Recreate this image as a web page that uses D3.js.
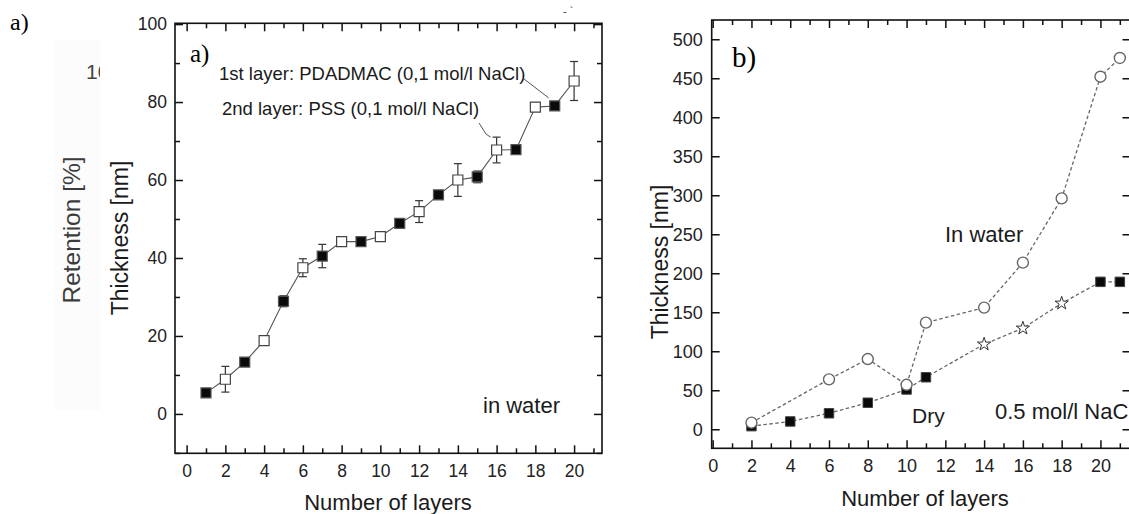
<!DOCTYPE html>
<html><head><meta charset="utf-8">
<script src="https://cdn.jsdelivr.net/npm/d3@7"></script>
<style>
html,body{margin:0;padding:0;background:#fff;}
svg{display:block;font-family:"Liberation Sans",Arial,sans-serif;}
</style></head>
<body>
<svg id="c" width="1129" height="514"></svg>
<script>
// ---------- Panel a data ----------
const layersA = [1,2,3,4,5,6,7,8,9,10,11,12,13,14,15,16,17,18,19,20];
const thicknessA = [5.4,8.9,13.3,18.8,28.9,37.5,40.5,44.2,44.2,45.5,48.9,51.9,56.2,60.0,60.8,67.7,67.8,78.7,79.0,85.4];
const errorA = [0.5,3.3,0.5,1.0,1.4,2.3,3.0,1.2,0.8,0.7,0.5,2.8,0.5,4.2,1.5,3.3,0.5,1.1,0.8,5.0];
const xTicksA = [0,2,4,6,8,10,12,14,16,18,20];
const xMinorA = [1,3,5,7,9,11,13,15,17,19,21];
const yTicksA = [0,20,40,60,80,100];
const yMinorA = [-10,10,30,50,70,90];

// ---------- Panel b data ----------
const layersWater = [2,6,8,10,11,14,16,18,20,21];
const thicknessWater = [8.5,64,90,57,136.7,156,213.6,296,452,476];
const layersDry = [2,4,6,8,10,11,14,16,18,20,21];
const thicknessDry = [4,10,20.5,34,51,66.7,109,129.5,161.5,189,189];
const markerDry = ["sq","sq","sq","sq","sq","sq","star","star","star","sq","sq"];
const xTicksB = [0,2,4,6,8,10,12,14,16,18,20];
const xMinorB = [1,3,5,7,9,11,13,15,17,19,21];
const yTicksB = [0,50,100,150,200,250,300,350,400,450,500];

const svg = d3.select("#c");

// ---------- left ghost layer ----------
svg.append("rect").attr("x",55).attr("y",40).attr("width",45).attr("height",370).attr("fill","#fcfcfc");
svg.append("defs").append("clipPath").attr("id","ghostclip").append("rect").attr("x",0).attr("y",0).attr("width",100).attr("height",514);
svg.append("text").attr("x",86).attr("y",79).attr("font-size",21).attr("fill","#444").attr("clip-path","url(#ghostclip)").text("10");
svg.append("text").attr("transform","translate(80,230) rotate(-90)").attr("text-anchor","middle")
  .attr("font-size",24.5).attr("fill","#3c3c3c").text("Retention [%]");
svg.append("text").attr("x",10).attr("y",30).attr("font-family","'Liberation Serif',serif").attr("font-size",24).attr("fill","#000").text("a)");
svg.append("text").attr("x",563).attr("y",15).attr("font-size",11).attr("fill","#333").text("-  `");

function frame(g, x, y, o){
  const [x0,x1] = x.range(), [y0,y1] = y.range();
  g.append("g").attr("transform",`translate(0,${y0})`)
    .call(d3.axisBottom(x).tickValues(o.xt).tickSizeInner(-8).tickSizeOuter(0).tickPadding(o.xpad).tickFormat(d3.format("d")));
  g.append("g").attr("transform",`translate(0,${y0})`)
    .call(d3.axisBottom(x).tickValues(o.xm).tickSizeInner(-5).tickSizeOuter(0).tickFormat(""));
  g.append("g").attr("transform",`translate(0,${y1})`)
    .call(d3.axisTop(x).tickValues(o.xt).tickSizeInner(-8).tickSizeOuter(0).tickFormat(""));
  g.append("g").attr("transform",`translate(0,${y1})`)
    .call(d3.axisTop(x).tickValues(o.xm).tickSizeInner(-5).tickSizeOuter(0).tickFormat(""));
  g.append("g").attr("transform",`translate(${x0},0)`)
    .call(d3.axisLeft(y).tickValues(o.yt).tickSizeInner(-8).tickSizeOuter(0).tickPadding(o.ypad).tickFormat(d3.format("d")));
  if(o.ym) g.append("g").attr("transform",`translate(${x0},0)`)
    .call(d3.axisLeft(y).tickValues(o.ym).tickSizeInner(-5).tickSizeOuter(0).tickFormat(""));
  g.append("g").attr("transform",`translate(${x1},0)`)
    .call(d3.axisRight(y).tickValues(o.yt).tickSizeInner(-8).tickSizeOuter(0).tickFormat(""));
  if(o.ym) g.append("g").attr("transform",`translate(${x1},0)`)
    .call(d3.axisRight(y).tickValues(o.ym).tickSizeInner(-5).tickSizeOuter(0).tickFormat(""));
  g.append("rect").attr("x",x0).attr("y",y1).attr("width",x1-x0).attr("height",y0-y1)
    .attr("fill","none").attr("stroke","#111").attr("stroke-width",1.6);
  g.selectAll(".domain").remove();
  g.selectAll(".tick line").attr("stroke","#111").attr("stroke-width",1.5);
  g.selectAll(".tick text").attr("font-size",o.fs).attr("fill","#222").attr("font-family","'Liberation Sans',Arial,sans-serif");
}

// ---------- Panel a ----------
const xA = d3.scaleLinear().domain([-0.6,21.44]).range([175,602]);
const yA = d3.scaleLinear().domain([-10.1,100.2]).range([453.3,23.3]);
const gA = svg.append("g");
frame(gA, xA, yA, {xt:xTicksA, xm:xMinorA, yt:yTicksA, ym:yMinorA, xpad:11, ypad:8, fs:17.5});

gA.append("path").datum(layersA.map((l,i)=>[l,thicknessA[i]]))
  .attr("d", d3.line().x(d=>xA(d[0])).y(d=>yA(d[1])))
  .attr("fill","none").attr("stroke","#555").attr("stroke-width",1.1);

const eb = gA.append("g").attr("stroke","#333").attr("stroke-width",1.2);
layersA.forEach((l,i)=>{
  const e = errorA[i]; if(e < 0.9) return;
  const cx = xA(l), t = yA(thicknessA[i]+e), b = yA(thicknessA[i]-e);
  eb.append("line").attr("x1",cx).attr("x2",cx).attr("y1",t).attr("y2",b);
  eb.append("line").attr("x1",cx-4).attr("x2",cx+4).attr("y1",t).attr("y2",t);
  eb.append("line").attr("x1",cx-4).attr("x2",cx+4).attr("y1",b).attr("y2",b);
});
gA.selectAll(".ptA").data(layersA.map((l,i)=>({l, v:thicknessA[i]}))).join("path")
  .attr("transform",d=>`translate(${xA(d.l)},${yA(d.v)})`)
  .attr("d", d3.symbol(d3.symbolSquare, 100)())
  .attr("fill",d=>d.l%2===1?"#0a0a0a":"#fff")
  .attr("stroke",d=>d.l%2===1?"#555":"#444").attr("stroke-width",1.2);

gA.append("text").attr("x",190).attr("y",62).attr("font-family","'Liberation Serif',serif").attr("font-size",25).text("a)");
gA.append("text").attr("x",219).attr("y",80).attr("font-size",18.5).attr("fill","#1a1a1a").text("1st layer: PDADMAC (0,1 mol/l NaCl)");
gA.append("text").attr("x",222).attr("y",115).attr("font-size",18.5).attr("fill","#1a1a1a").text("2nd layer: PSS (0,1 mol/l NaCl)");
gA.append("line").attr("x1",524).attr("y1",79).attr("x2",xA(19)-6).attr("y2",yA(79)-8).attr("stroke","#555").attr("stroke-width",1);
gA.append("polyline").attr("points",`479,123 486,134 ${xA(16)-6},${yA(67.7+3.3)}`).attr("fill","none").attr("stroke","#555").attr("stroke-width",1);
gA.append("text").attr("x",483).attr("y",413).attr("font-size",22).attr("fill","#1a1a1a").text("in water");
gA.append("text").attr("transform","translate(128,238) rotate(-90)").attr("text-anchor","middle").attr("font-size",23).attr("fill","#1a1a1a").text("Thickness [nm]");
gA.append("text").attr("x",388).attr("y",510).attr("text-anchor","middle").attr("font-size",22).attr("fill","#1a1a1a").text("Number of layers");

// ---------- Panel b ----------
const xB = d3.scaleLinear().domain([-0.05,21.55]).range([711.7,1130.5]);
const yB = d3.scaleLinear().domain([-24.4,524.7]).range([448.3,20]);
const gB = svg.append("g");
frame(gB, xB, yB, {xt:xTicksB, xm:xMinorB, yt:yTicksB, ym:null, xpad:11, ypad:9, fs:18});

const dash = "3.5,2.5";
gB.append("path").datum(layersDry.map((l,i)=>[l,thicknessDry[i]]))
  .attr("d", d3.line().x(d=>xB(d[0])).y(d=>yB(d[1])))
  .attr("fill","none").attr("stroke","#666").attr("stroke-width",1.3).attr("stroke-dasharray",dash);
gB.append("path").datum(layersWater.map((l,i)=>[l,thicknessWater[i]]))
  .attr("d", d3.line().x(d=>xB(d[0])).y(d=>yB(d[1])))
  .attr("fill","none").attr("stroke","#666").attr("stroke-width",1.3).attr("stroke-dasharray",dash);

const dryPts = layersDry.map((l,i)=>({l, v:thicknessDry[i], m:markerDry[i]}));
gB.selectAll(".sq").data(dryPts.filter(d=>d.m==="sq")).join("path")
  .attr("transform",d=>`translate(${xB(d.l)},${yB(d.v)})`)
  .attr("d", d3.symbol(d3.symbolSquare, 90)())
  .attr("fill","#0a0a0a").attr("stroke","#444").attr("stroke-width",1);
gB.selectAll(".st").data(dryPts.filter(d=>d.m==="star")).join("path")
  .attr("transform",d=>`translate(${xB(d.l)},${yB(d.v)})`)
  .attr("d", d3.symbol(d3.symbolStar, 55)())
  .attr("fill","#fff").attr("stroke","#333").attr("stroke-width",1);
gB.selectAll(".ci").data(layersWater.map((l,i)=>({l, v:thicknessWater[i]}))).join("circle")
  .attr("cx",d=>xB(d.l)).attr("cy",d=>yB(d.v)).attr("r",5.5)
  .attr("fill","#fff").attr("stroke","#666").attr("stroke-width",1.4);

gB.append("text").attr("x",732).attr("y",67).attr("font-family","'Liberation Serif',serif").attr("font-size",29).text("b)");
gB.append("text").attr("x",945).attr("y",242).attr("font-size",22).attr("fill","#1a1a1a").text("In water");
gB.append("text").attr("x",912).attr("y",423).attr("font-size",21).attr("fill","#1a1a1a").text("Dry");
gB.append("text").attr("x",995).attr("y",419).attr("font-size",22).attr("fill","#1a1a1a").text("0.5 mol/l NaC");
gB.append("text").attr("transform","translate(668,262) rotate(-90)").attr("text-anchor","middle").attr("font-size",23).attr("fill","#1a1a1a").text("Thickness [nm]");
gB.append("text").attr("x",925).attr("y",506).attr("text-anchor","middle").attr("font-size",22).attr("fill","#1a1a1a").text("Number of layers");
</script>
</body></html>
